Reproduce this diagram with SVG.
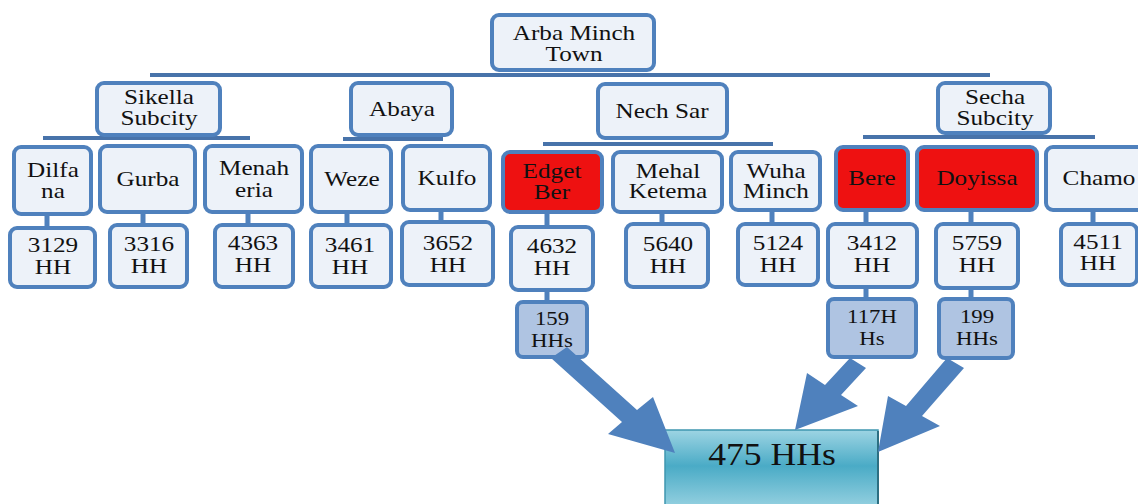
<svg xmlns="http://www.w3.org/2000/svg" width="1138" height="504" viewBox="0 0 1138 504">
<defs>
<style>
.n{fill:#edf2f9;stroke:#4f81bd;stroke-width:4}
.r{fill:#ee1111;stroke:#4f81bd;stroke-width:4}
.h{fill:#afc4e2;stroke:#4f81bd;stroke-width:4}
.t{font-family:"Liberation Serif","Times New Roman",serif;font-size:21px;fill:#111;text-anchor:middle}
.s{font-size:19px}
.c{stroke:#4873aa;stroke-width:4;fill:none}
.st{stroke:#4f81bd;stroke-width:5;fill:none}
.ar{fill:#4f81bd}
</style>
<linearGradient id="g" x1="0" y1="0" x2="0" y2="1">
<stop offset="0" stop-color="#9dd4e3"/>
<stop offset="0.45" stop-color="#4aabc6"/>
<stop offset="1" stop-color="#9ad3e2"/>
</linearGradient>
</defs>
<rect width="1138" height="504" fill="#fff"/>
<g id="connectors">
<line class="c" x1="150" y1="75" x2="990" y2="75"/>
<line class="c" x1="43" y1="138" x2="250" y2="138"/>
<line class="c" x1="343" y1="139" x2="443" y2="139"/>
<line class="c" x1="543" y1="144" x2="773" y2="144"/>
<line class="c" x1="863" y1="137" x2="1095" y2="137"/>
<line class="st" x1="47" y1="214" x2="47" y2="226"/>
<line class="st" x1="143" y1="212" x2="143" y2="224"/>
<line class="st" x1="248" y1="212" x2="248" y2="224"/>
<line class="st" x1="347" y1="212" x2="347" y2="224"/>
<line class="st" x1="441" y1="210" x2="441" y2="222"/>
<line class="st" x1="547" y1="212" x2="547" y2="226"/>
<line class="st" x1="662" y1="212" x2="662" y2="223"/>
<line class="st" x1="772" y1="210" x2="772" y2="223"/>
<line class="st" x1="866" y1="210" x2="866" y2="223"/>
<line class="st" x1="971" y1="210" x2="971" y2="223"/>
<line class="st" x1="1093" y1="210" x2="1093" y2="223"/>
<line class="st" x1="547" y1="290" x2="547" y2="302"/>
<line class="st" x1="866" y1="287" x2="866" y2="299"/>
<line class="st" x1="971" y1="288" x2="971" y2="299"/>
</g>
<g id="arba"><rect class="n" x="492" y="15" width="162" height="55" rx="7"/><text class="t" transform="translate(574 0) scale(1.2 1)"><tspan x="0" y="40">Arba Minch</tspan><tspan x="0" y="61">Town</tspan></text></g>
<g id="sikella"><rect class="n" x="97" y="83" width="123" height="52" rx="7"/><text class="t" transform="translate(159 0) scale(1.2 1)"><tspan x="0" y="104">Sikella</tspan><tspan x="0" y="125">Subcity</tspan></text></g>
<g id="abaya"><rect class="n" x="351" y="83" width="101" height="52" rx="7"/><text class="t" transform="translate(402 0) scale(1.2 1)"><tspan x="0" y="116">Abaya</tspan></text></g>
<g id="nechsar"><rect class="n" x="598" y="84" width="129" height="54" rx="7"/><text class="t" transform="translate(662 0) scale(1.2 1)"><tspan x="0" y="118">Nech Sar</tspan></text></g>
<g id="secha"><rect class="n" x="938" y="83" width="112" height="50" rx="7"/><text class="t" transform="translate(995 0) scale(1.2 1)"><tspan x="0" y="104">Secha</tspan><tspan x="0" y="125">Subcity</tspan></text></g>
<g id="dilfana"><rect class="n" x="14" y="147" width="77" height="67" rx="7"/><text class="t" transform="translate(53 0) scale(1.2 1)"><tspan x="0" y="177">Dilfa</tspan><tspan x="0" y="198">na</tspan></text></g>
<g id="gurba"><rect class="n" x="100" y="146" width="95" height="66" rx="7"/><text class="t" transform="translate(148 0) scale(1.2 1)"><tspan x="0" y="186">Gurba</tspan></text></g>
<g id="menaheria"><rect class="n" x="205" y="146" width="97" height="66" rx="7"/><text class="t" transform="translate(254 0) scale(1.2 1)"><tspan x="0" y="175">Menah</tspan><tspan x="0" y="197">eria</tspan></text></g>
<g id="weze"><rect class="n" x="311" y="146" width="80" height="66" rx="7"/><text class="t" transform="translate(352 0) scale(1.2 1)"><tspan x="0" y="186">Weze</tspan></text></g>
<g id="kulfo"><rect class="n" x="403" y="146" width="87" height="64" rx="7"/><text class="t" transform="translate(447 0) scale(1.2 1)"><tspan x="0" y="185">Kulfo</tspan></text></g>
<g id="edgetber"><rect class="r" x="503" y="152" width="99" height="60" rx="7"/><text class="t" transform="translate(552 0) scale(1.2 1)"><tspan x="0" y="178">Edget</tspan><tspan x="0" y="199">Ber</tspan></text></g>
<g id="mehal"><rect class="n" x="613" y="152" width="109" height="60" rx="7"/><text class="t" transform="translate(668 0) scale(1.2 1)"><tspan x="0" y="178">Mehal</tspan><tspan x="0" y="198">Ketema</tspan></text></g>
<g id="wuha"><rect class="n" x="731" y="152" width="89" height="58" rx="7"/><text class="t" transform="translate(776 0) scale(1.2 1)"><tspan x="0" y="178">Wuha</tspan><tspan x="0" y="198">Minch</tspan></text></g>
<g id="bere"><rect class="r" x="836" y="147" width="72" height="63" rx="7"/><text class="t" transform="translate(872 0) scale(1.2 1)"><tspan x="0" y="185">Bere</tspan></text></g>
<g id="doyissa"><rect class="r" x="917" y="147" width="120" height="63" rx="7"/><text class="t" transform="translate(977 0) scale(1.2 1)"><tspan x="0" y="185">Doyissa</tspan></text></g>
<g id="chamo"><rect class="n" x="1046" y="147" width="100" height="63" rx="7"/><text class="t" transform="translate(1099 0) scale(1.2 1)"><tspan x="0" y="185">Chamo</tspan></text></g>
<g id="hh3129"><rect class="n" x="10" y="228" width="85" height="59" rx="7"/><text class="t" transform="translate(53 0) scale(1.2 1)"><tspan x="0" y="252">3129</tspan><tspan x="0" y="274">HH</tspan></text></g>
<g id="hh3316"><rect class="n" x="110" y="225" width="77" height="62" rx="7"/><text class="t" transform="translate(149 0) scale(1.2 1)"><tspan x="0" y="251">3316</tspan><tspan x="0" y="273">HH</tspan></text></g>
<g id="hh4363"><rect class="n" x="215" y="225" width="78" height="62" rx="7"/><text class="t" transform="translate(253 0) scale(1.2 1)"><tspan x="0" y="250">4363</tspan><tspan x="0" y="272">HH</tspan></text></g>
<g id="hh3461"><rect class="n" x="311" y="225" width="80" height="62" rx="7"/><text class="t" transform="translate(350 0) scale(1.2 1)"><tspan x="0" y="252">3461</tspan><tspan x="0" y="274">HH</tspan></text></g>
<g id="hh3652"><rect class="n" x="402" y="222" width="91" height="63" rx="7"/><text class="t" transform="translate(448 0) scale(1.2 1)"><tspan x="0" y="250">3652</tspan><tspan x="0" y="272">HH</tspan></text></g>
<g id="hh4632"><rect class="n" x="511" y="227" width="82" height="63" rx="7"/><text class="t" transform="translate(552 0) scale(1.2 1)"><tspan x="0" y="253">4632</tspan><tspan x="0" y="275">HH</tspan></text></g>
<g id="hh5640"><rect class="n" x="626" y="224" width="82" height="63" rx="7"/><text class="t" transform="translate(668 0) scale(1.2 1)"><tspan x="0" y="251">5640</tspan><tspan x="0" y="273">HH</tspan></text></g>
<g id="hh5124"><rect class="n" x="738" y="224" width="80" height="61" rx="7"/><text class="t" transform="translate(778 0) scale(1.2 1)"><tspan x="0" y="250">5124</tspan><tspan x="0" y="272">HH</tspan></text></g>
<g id="hh3412"><rect class="n" x="828" y="224" width="89" height="63" rx="7"/><text class="t" transform="translate(872 0) scale(1.2 1)"><tspan x="0" y="250">3412</tspan><tspan x="0" y="272">HH</tspan></text></g>
<g id="hh5759"><rect class="n" x="936" y="224" width="82" height="64" rx="7"/><text class="t" transform="translate(977 0) scale(1.2 1)"><tspan x="0" y="250">5759</tspan><tspan x="0" y="272">HH</tspan></text></g>
<g id="hh4511"><rect class="n" x="1061" y="224" width="76" height="61" rx="7"/><text class="t" transform="translate(1098 0) scale(1.2 1)"><tspan x="0" y="249">4511</tspan><tspan x="0" y="270">HH</tspan></text></g>
<g id="s159"><rect class="h" x="517" y="302" width="70" height="55" rx="6"/><text class="t s" transform="translate(552 0) scale(1.2 1)"><tspan x="0" y="325">159</tspan><tspan x="0" y="347">HHs</tspan></text></g>
<g id="s117"><rect class="h" x="828" y="299" width="88" height="58" rx="6"/><text class="t s" transform="translate(872 0) scale(1.2 1)"><tspan x="0" y="323">117H</tspan><tspan x="0" y="345">Hs</tspan></text></g>
<g id="s199"><rect class="h" x="939" y="299" width="74" height="59" rx="6"/><text class="t s" transform="translate(977 0) scale(1.2 1)"><tspan x="0" y="323">199</tspan><tspan x="0" y="345">HHs</tspan></text></g>
<g id="total"><rect x="665" y="430" width="213" height="80" fill="url(#g)" stroke="#3f97b0" stroke-width="1.5"/><line x1="878" y1="431" x2="878" y2="504" stroke="#2d6f82" stroke-width="2"/><text class="t" style="font-size:31px" transform="translate(772 0) scale(1.15 1)"><tspan x="0" y="465">475 HHs</tspan></text></g>
<g id="arrows">
<polygon class="ar" points="567,347 637,410 653,397 675,453 608,434 622,422 551,358"/>
<polygon class="ar" points="850,358 866,368 841,395 858,406 795,430 807,373 825,385"/>
<polygon class="ar" points="947,358 964,368 922,416 940,426 878,452 888,396 906,406"/>
</g>
</svg>
